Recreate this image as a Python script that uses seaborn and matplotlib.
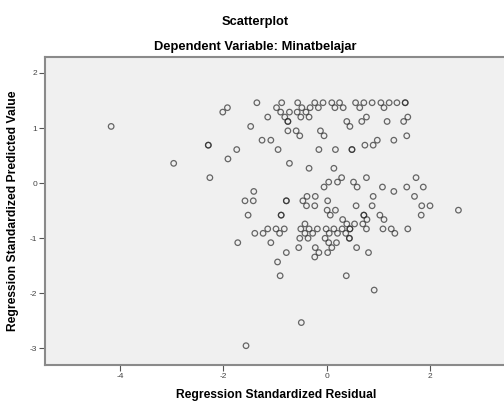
import matplotlib
matplotlib.use('Agg')
import matplotlib.pyplot as plt
import seaborn as sns
import pandas as pd

# regression standardized residual (x) and standardized predicted value (y), row by row
resid = [
    -1.35, -0.87, -0.56, -0.23, -0.07, 0.10, 0.25, 0.56, 0.72, 0.88, 1.05, 1.21, 1.36, 1.52, 1.52,
    -1.92, -0.97, -0.48, -0.32, -0.16, 0.16, 0.32, 0.64, 1.11,
    -2.01, -0.89, -0.72, -0.57, -0.40,
    -1.14, -0.81, -0.50, -0.34, 0.77, 1.57,
    -0.75, -0.75, 0.39, 0.68, 1.17, 1.49,
    -4.17, -1.47, 0.45,
    -0.75, -0.59, -0.12,
    -0.52, -0.05, 1.55,
    -1.25, -1.08, 0.98, 1.30,
    -2.29, -2.29, 0.74, 0.90,
    -1.74, -0.94, -0.15, 0.17, 0.49, 0.49,
    -1.91,
    -2.96, -0.72,
    -0.34, 0.14,
    -2.26, 0.29, 0.77, 1.73,
    0.04, 0.21, 0.52,
    -0.05, 0.59, 1.08, 1.55, 1.87,
    -1.41, 1.30,
    -0.38, -0.22, 0.90, 1.70,
    -1.58, -1.42, -0.78, -0.78, -0.46, 0.02,
    -0.39, -0.23, 0.57, 0.88, 1.84, 2.00,
    0.01, 0.17, 2.55,
    -1.52, -0.88, -0.88, 0.07, 0.72, 0.72, 1.03, 1.83,
    0.31, 0.78, 1.11,
    -0.42, 0.39, 0.54, 0.70,
    -1.14, -0.98, -0.82, -0.50, -0.34, -0.18, -0.01, 0.14, 0.30, 0.45, 0.45, 0.77, 1.09, 1.25, 1.57,
    -1.39, -1.23, -0.91, -0.42, -0.27, 0.05, 0.21, 0.37, 1.32,
    -0.52, -0.36, -0.03, 0.44, 0.44,
    -1.72, -1.08, 0.04, 0.19,
    -0.54, -0.22, 0.10, 0.58,
    -0.78, -0.15, 0.02, 0.81,
    -0.23,
    -0.95,
    -0.90, 0.38,
    0.92,
    -0.49,
    -1.56,
]
pred = [
    1.46, 1.46, 1.46, 1.46, 1.46, 1.46, 1.46, 1.46, 1.46, 1.46, 1.46, 1.46, 1.46, 1.46, 1.46,
    1.37, 1.37, 1.37, 1.37, 1.37, 1.37, 1.37, 1.37, 1.37,
    1.29, 1.29, 1.29, 1.29, 1.29,
    1.20, 1.20, 1.20, 1.20, 1.20, 1.20,
    1.12, 1.12, 1.12, 1.12, 1.12, 1.12,
    1.03, 1.03, 1.03,
    0.95, 0.95, 0.95,
    0.86, 0.86, 0.86,
    0.78, 0.78, 0.78, 0.78,
    0.69, 0.69, 0.69, 0.69,
    0.61, 0.61, 0.61, 0.61, 0.61, 0.61,
    0.44,
    0.36, 0.36,
    0.27, 0.27,
    0.10, 0.10, 0.10, 0.10,
    0.02, 0.02, 0.02,
    -0.07, -0.07, -0.07, -0.07, -0.07,
    -0.15, -0.15,
    -0.24, -0.24, -0.24, -0.24,
    -0.32, -0.32, -0.32, -0.32, -0.32, -0.32,
    -0.41, -0.41, -0.41, -0.41, -0.41, -0.41,
    -0.49, -0.49, -0.49,
    -0.58, -0.58, -0.58, -0.58, -0.58, -0.58, -0.58, -0.58,
    -0.66, -0.66, -0.66,
    -0.74, -0.74, -0.74, -0.74,
    -0.83, -0.83, -0.83, -0.83, -0.83, -0.83, -0.83, -0.83, -0.83, -0.83, -0.83, -0.83, -0.83, -0.83, -0.83,
    -0.91, -0.91, -0.91, -0.91, -0.91, -0.91, -0.91, -0.91, -0.91,
    -1.00, -1.00, -1.00, -1.00, -1.00,
    -1.08, -1.08, -1.08, -1.08,
    -1.17, -1.17, -1.17, -1.17,
    -1.26, -1.26, -1.26, -1.26,
    -1.34,
    -1.43,
    -1.68, -1.68,
    -1.94,
    -2.53,
    -2.95,
]
x_ticks = [-4, -2, 0, 2]
y_ticks = [-3, -2, -1, 0, 1, 2]

df = pd.DataFrame({'resid': resid, 'pred': pred})

plt.rcParams['font.family'] = ['Liberation Sans', 'DejaVu Sans']
# plain hyphen for negative tick labels, like the original
plt.rcParams['axes.unicode_minus'] = False

fig = plt.figure(figsize=(5.04, 4.01), dpi=100)
# the plot frame runs a little past the right edge, as in the original
ax = fig.add_axes([45 / 504, 36 / 401, 462 / 504, 308 / 401])

sns.scatterplot(data=df, x='resid', y='pred', ax=ax, marker='o', s=16,
                facecolor='none', edgecolor='#2a2a2a', linewidth=0.9, alpha=0.7)

ax.set_facecolor('#f0f0f0')
ax.set_xlim(-5.45, 3.49)
ax.set_ylim(-3.30, 2.29)
ax.set_xticks(x_ticks)
ax.set_yticks(y_ticks)
for side in ['left', 'bottom', 'top', 'right']:
    ax.spines[side].set_color('#8a8a8a')
    ax.spines[side].set_linewidth(1.5)
ax.tick_params(direction='out', length=4, width=0.8, color='#555555',
               labelsize=6, labelcolor='#444444', pad=1.5)

ax.set_xlabel('Regression Standardized Residual', fontsize=8.7, fontweight='bold', labelpad=7)
ax.set_ylabel('Regression Standardized Predicted Value', fontsize=8.7, fontweight='bold', labelpad=8)

fig.text(255 / 504, 1 - 22 / 401, 'Scatterplot', ha='center', va='center',
         fontsize=9.3, fontweight='bold')
fig.text(255 / 504, 1 - 47 / 401, 'Dependent Variable: Minatbelajar', ha='center', va='center',
         fontsize=9.3, fontweight='bold')

fig.savefig('out.png', dpi=100)
